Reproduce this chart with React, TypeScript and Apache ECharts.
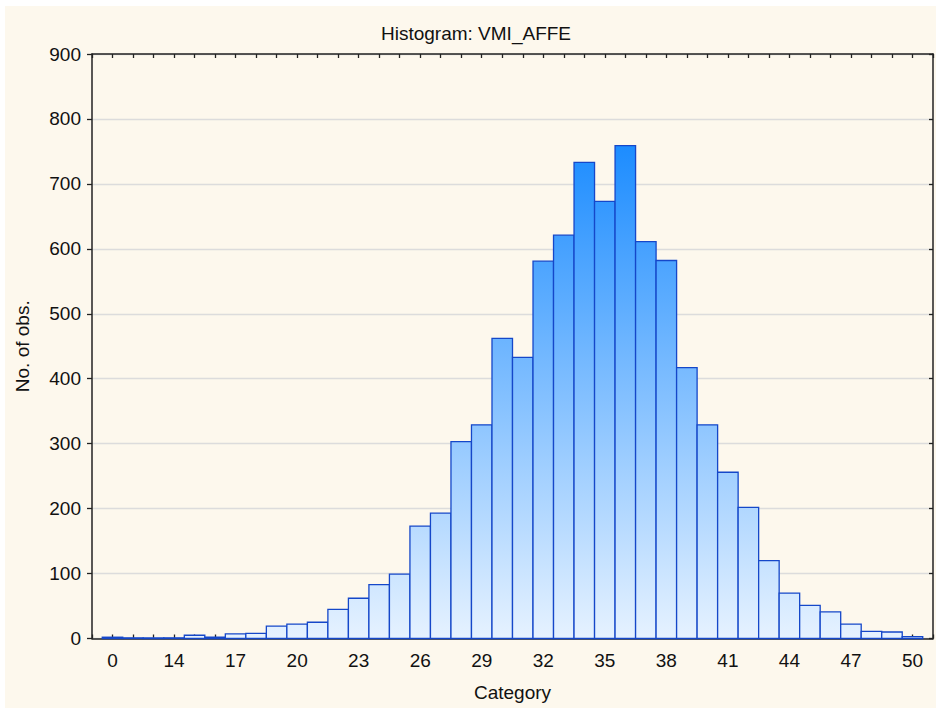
import React, { useEffect, useRef } from "react";
import * as echarts from "echarts";

const titleText = "Histogram: VMI_AFFE";
const xAxisName = "Category";
const yAxisName = "No. of obs.";

const categories = [
  "0", "12", "13", "14", "15", "16", "17", "18", "19", "20",
  "21", "22", "23", "24", "25", "26", "27", "28", "29", "30",
  "31", "32", "33", "34", "35", "36", "37", "38", "39", "40",
  "41", "42", "43", "44", "45", "46", "47", "48", "49", "50",
];

const counts = [
  2, 1, 1, 1, 5, 2, 7, 8, 19, 22,
  25, 45, 62, 83, 99, 173, 193, 303, 329, 462,
  433, 581, 621, 733, 673, 759, 611, 582, 417, 329,
  256, 202, 120, 70, 51, 41, 22, 11, 10, 3,
];

const yMin = 0;
const yMax = 900;
const yStep = 100;
const labelEvery = 3;

const FONT = "'Liberation Sans', Arial, sans-serif";

export default function App() {
  const ref = useRef<HTMLDivElement>(null);

  useEffect(() => {
    if (!ref.current) return;
    const chart = echarts.init(ref.current, undefined, { renderer: "svg" });
    const data = counts.map((v, i) => [i, v]);
    const xMin = -1;
    const xMax = categories.length;
    const axisLineStyle = { color: "#222222", width: 1.5 };

    const option: any = {
      animation: false,
      backgroundColor: "#fdf8ed",
      title: {
        text: titleText,
        left: 466,
        top: 13,
        textAlign: "center",
        textStyle: { fontFamily: FONT, fontSize: 19, fontWeight: "normal", color: "#111" },
      },
      grid: { left: 86, top: 48, right: 2, bottom: 69.5, containLabel: false },
      xAxis: [
        {
          type: "value",
          position: "bottom",
          min: xMin,
          max: xMax,
          interval: 1,
          name: xAxisName,
          nameLocation: "middle",
          nameGap: 44,
          nameTextStyle: { fontFamily: FONT, fontSize: 19, color: "#111" },
          axisLine: { show: true, onZero: false, lineStyle: axisLineStyle },
          axisTick: { show: true, inside: true, length: 4, lineStyle: { color: "#222", width: 1.3 } },
          axisLabel: {
            margin: 12,
            fontFamily: FONT,
            fontSize: 19,
            color: "#111",
            hideOverlap: false,
            formatter: (v: number) => {
              const i = Math.round(v);
              return i >= 0 && i < categories.length && i % labelEvery === 0 ? categories[i] : "";
            },
          },
          splitLine: { show: false },
        },
        {
          type: "value",
          position: "top",
          min: xMin,
          max: xMax,
          interval: 1,
          axisLine: { show: true, onZero: false, lineStyle: axisLineStyle },
          axisTick: { show: true, inside: true, length: 4, lineStyle: { color: "#222", width: 1.3 } },
          axisLabel: { show: false },
          splitLine: { show: false },
        },
      ],
      yAxis: [
        {
          type: "value",
          position: "left",
          min: yMin,
          max: yMax,
          interval: yStep,
          name: yAxisName,
          nameLocation: "middle",
          nameGap: 60,
          nameTextStyle: { fontFamily: FONT, fontSize: 19, color: "#111" },
          axisLine: { show: true, onZero: false, lineStyle: axisLineStyle },
          axisTick: { show: true, inside: false, length: 5, lineStyle: { color: "#222", width: 1.3 } },
          axisLabel: { margin: 11, fontFamily: FONT, fontSize: 19, color: "#111" },
          splitLine: { show: true, lineStyle: { color: "#dcdcdc", width: 1.3 } },
        },
        {
          type: "value",
          position: "right",
          min: yMin,
          max: yMax,
          interval: yStep,
          axisLine: { show: true, onZero: false, lineStyle: axisLineStyle },
          axisTick: { show: true, inside: true, length: 4, lineStyle: { color: "#222", width: 1.3 } },
          axisLabel: { show: false },
          splitLine: { show: false },
        },
      ],
      series: [
        {
          type: "custom",
          xAxisIndex: 0,
          yAxisIndex: 0,
          data,
          encode: { x: 0, y: 1 },
          renderItem: (params: any, api: any) => {
            const x = api.value(0);
            const y = api.value(1);
            const p0 = api.coord([x - 0.5, y]);
            const p1 = api.coord([x + 0.5, 0]);
            const gTop = api.coord([0, 760])[1];
            const gBottom = api.coord([0, 0])[1];
            return {
              type: "rect",
              shape: { x: p0[0], y: p0[1], width: p1[0] - p0[0], height: p1[1] - p0[1] },
              style: {
                fill: new echarts.graphic.LinearGradient(
                  0,
                  gTop,
                  0,
                  gBottom,
                  [
                    { offset: 0, color: "#1c8cff" },
                    { offset: 0.5, color: "#81bfff" },
                    { offset: 1, color: "#e6f2ff" },
                  ],
                  true
                ),
                stroke: "#1547c9",
                lineWidth: 1.3,
              },
            };
          },
        },
      ],
    };

    chart.setOption(option);
    return () => chart.dispose();
  }, []);

  return (
    <div
      ref={ref}
      style={{ position: "absolute", left: 5, top: 6, width: 931, height: 702 }}
    />
  );
}
